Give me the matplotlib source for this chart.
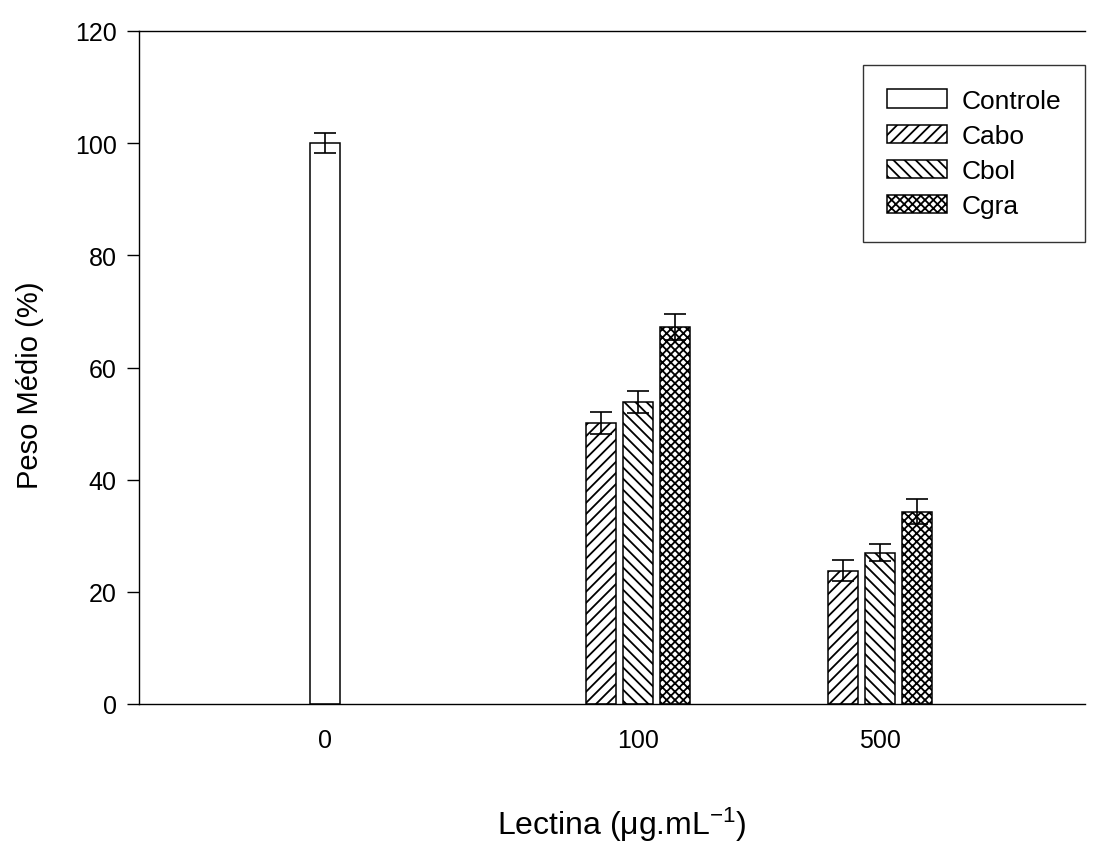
import matplotlib
matplotlib.use("Agg")
import matplotlib.pyplot as plt
import numpy as np

# ---- data ----
doses = ["0", "100", "500"]
controle_val = [100.0]
controle_err = [1.8]
cabo_val = [50.1, 23.8]
cabo_err = [2.0, 1.9]
cbol_val = [53.8, 27.0]
cbol_err = [2.0, 1.5]
cgra_val = [67.2, 34.3]
cgra_err = [2.3, 2.2]
yticks = [0, 20, 40, 60, 80, 100, 120]

# ---- layout ----
group_x = np.array([0.0, 1.0, 1.773])
bar_w = 0.096
step = 0.117

plt.rcParams['font.family'] = ['Liberation Sans', 'DejaVu Sans']
plt.rcParams['hatch.linewidth'] = 1.3
plt.rcParams['mathtext.fontset'] = 'custom'
plt.rcParams['mathtext.rm'] = 'Liberation Sans'
plt.rcParams['mathtext.it'] = 'Liberation Sans'

fig = plt.figure(figsize=(10.93, 8.45), dpi=100)
ax = fig.add_axes([139/1093, 140/845, 946/1093, 673/845])

bar_kw = dict(width=bar_w, facecolor='white', edgecolor='black', linewidth=1.1)
err_kw = dict(ecolor='black', elinewidth=1.2, capsize=8, capthick=1.2)

ax.bar(group_x[:1], controle_val, yerr=controle_err, label='Controle',
       error_kw=err_kw, **bar_kw)
ax.bar(group_x[1:] - step, cabo_val, yerr=cabo_err, hatch='///', label='Cabo',
       error_kw=err_kw, **bar_kw)
ax.bar(group_x[1:], cbol_val, yerr=cbol_err, hatch='\\\\\\', label='Cbol',
       error_kw=err_kw, **bar_kw)
ax.bar(group_x[1:] + step, cgra_val, yerr=cgra_err, hatch='xxxx', label='Cgra',
       error_kw=err_kw, **bar_kw)

ax.set_xlim(-0.594, 2.428)
ax.set_ylim(0, 120)
ax.set_yticks(yticks)
ax.set_xticks(group_x)
ax.set_xticklabels(doses)
ax.tick_params(axis='x', length=0, pad=17, labelsize=18)
ax.tick_params(axis='y', direction='out', length=9, width=1.0, pad=7, labelsize=18)

for s in ['left', 'bottom', 'top']:
    ax.spines[s].set_linewidth(1.0)
ax.spines['right'].set_visible(False)

ax.set_ylabel('Peso Médio (%)', fontsize=21)
ax.set_xlabel('Lectina (μg.mL$^{-1}$)', fontsize=23)
ax.xaxis.set_label_coords(0.51, -0.15)
ax.yaxis.set_label_coords(-0.10, 0.475)

leg = ax.legend(loc='upper right', bbox_to_anchor=(1085/1093, 1 - 66/845),
                bbox_transform=fig.transFigure, fontsize=19,
                frameon=True, fancybox=False, edgecolor='black',
                handlelength=2.27, handleheight=0.68, handletextpad=0.57,
                labelspacing=0.42, borderpad=0.9, borderaxespad=0)
leg.get_frame().set_linewidth(1.0)

fig.savefig('out.png', dpi=100)
